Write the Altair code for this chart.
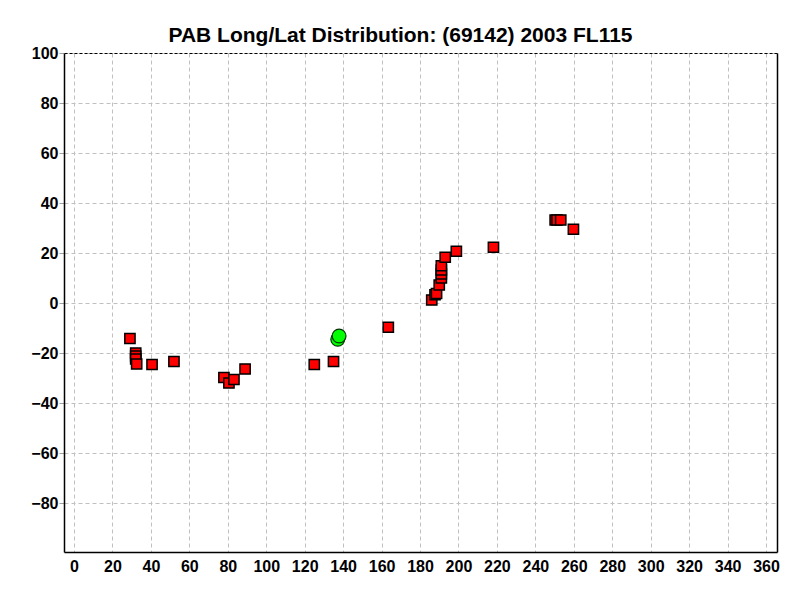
import altair as alt
import pandas as pd

# Red squares: (longitude, latitude)
sq_long = [29.1, 32.1, 32.1, 32.1, 32.6, 40.6, 52.0, 78.0, 80.6, 83.2, 89.0,
           125.0, 135.0, 163.5,
           186.1, 187.8, 188.6, 190.0, 191.1, 191.1, 191.1, 191.1, 193.1, 198.9,
           218.2, 250.3, 251.3, 253.2, 259.8]
sq_lat = [-14.2, -20.0, -21.2, -22.4, -24.4, -24.6, -23.4, -29.8, -32.0, -30.6, -26.4,
          -24.6, -23.4, -9.7,
          1.2, 3.3, 3.8, 7.2, 10.0, 11.6, 13.2, 14.9, 18.3, 20.7,
          22.3, 33.2, 33.2, 33.2, 29.5]

# Green circles: (longitude, latitude)
gc_long = [137.2, 137.9]
gc_lat = [-14.5, -13.2]

x_ticks = list(range(0, 361, 20))
y_ticks = list(range(-80, 101, 20))

sq = pd.DataFrame({"long": sq_long, "lat": sq_lat})
gc = pd.DataFrame({"long": gc_long, "lat": gc_lat})

xs = alt.Scale(domain=[-5.2, 365.7], nice=False, zero=False)
ys = alt.Scale(domain=[-99.6, 100], nice=False, zero=False)

axis_common = dict(
    labelFont="Liberation Sans", labelFontSize=16, labelFontWeight="bold",
    labelColor="black", grid=True, gridColor="#c0c0c0", gridDash=[4, 3],
    gridWidth=1, domainColor="black", domainWidth=1.5, title=None,
)

x_axis = alt.Axis(values=x_ticks, orient="bottom", ticks=False, labelPadding=6,
                  **axis_common)
y_axis = alt.Axis(values=y_ticks, orient="left", tickColor="#a0a0a0", tickSize=5,
                  labelPadding=1, **axis_common)

squares = alt.Chart(sq).mark_square(
    size=105, color="#ff0000", stroke="black", strokeWidth=1.5, opacity=1
).encode(
    x=alt.X("long:Q", scale=xs, axis=x_axis),
    y=alt.Y("lat:Q", scale=ys, axis=y_axis),
)

circles = alt.Chart(gc).mark_circle(
    size=190, color="#00ff00", stroke="#003300", strokeWidth=1.2, opacity=1
).encode(x=alt.X("long:Q", scale=xs, axis=None), y=alt.Y("lat:Q", scale=ys, axis=None))

frame = alt.Chart(gc).mark_point(opacity=0).encode(
    x=alt.X("long:Q", scale=xs, axis=alt.Axis(orient="top", labels=False, ticks=False,
                                             grid=False, domainColor="black",
                                             domainDash=[3, 2], domainWidth=1,
                                             title=None)),
    y=alt.Y("lat:Q", scale=ys, axis=alt.Axis(orient="right", labels=False, ticks=False,
                                            grid=False, domainColor="black",
                                            domainWidth=1.5, title=None)),
)

chart = alt.layer(squares, circles, frame).resolve_axis(
    x="independent", y="independent"
).properties(
    width=713, height=499,
    autosize=alt.AutoSizeParams(type="none"),
    padding={"left": 56, "top": 45, "right": 15, "bottom": 40},
    title=alt.TitleParams(
        "PAB Long/Lat Distribution: (69142) 2003 FL115",
        font="Liberation Sans", fontSize=21, fontWeight="bold", color="black",
        anchor="middle", dx=-20, dy=11, offset=10,
    ),
).configure_view(stroke=None)

chart.save("out.html", embed_options={"renderer": "svg", "actions": False})
